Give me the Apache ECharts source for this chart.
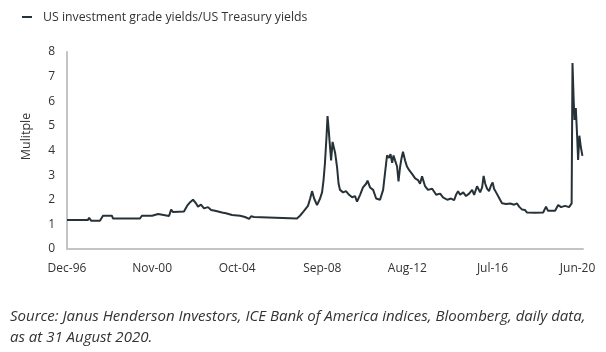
<!DOCTYPE html>
<html>
<head>
<meta charset="utf-8">
<script src="https://cdn.jsdelivr.net/npm/echarts@6/dist/echarts.min.js"></script>
<style>
html,body{margin:0;padding:0;background:#fff;}
#chart{width:606px;height:352px;}
</style>
</head>
<body>
<div id="chart"></div>
<script>
var seriesName = 'US investment grade yields/US Treasury yields';
var yAxisName = 'Mulitple';
var sourceNote = 'Source: Janus Henderson Investors, ICE Bank of America indices, Bloomberg, daily data,\nas at 31 August 2020.';
var monthNames = ['Jan','Feb','Mar','Apr','May','Jun','Jul','Aug','Sep','Oct','Nov','Dec'];
var startDate = '1996-12-01';
var endDate = '2020-09-01';
var tickEveryMonths = 47;
var yTicks = [0, 1, 2, 3, 4, 5, 6, 7, 8];

var dates = [
'1996-12-01','1997-11-18','1997-12-07','1998-01-10','1998-06-07','1998-07-28','1998-12-28','1999-01-12',
'2000-04-10','2000-05-12','2000-11-01','2000-12-01','2001-02-10','2001-02-24','2001-08-12','2001-09-16',
'2001-10-19','2002-04-19','2002-06-10','2002-08-01','2002-09-19','2002-11-10','2002-12-12','2003-02-01',
'2003-03-22','2003-05-28','2003-07-19','2003-09-25','2004-01-19','2004-03-25','2004-07-07','2004-11-19',
'2005-02-10','2005-03-12','2005-04-19','2005-05-22','2005-07-10','2005-08-12','2007-07-01','2007-08-22',
'2007-10-12','2007-12-01','2008-01-04','2008-02-10','2008-03-12','2008-04-16','2008-06-04','2008-07-25',
'2008-08-28','2008-09-22','2008-10-16','2008-11-12','2008-11-28','2008-12-16','2009-01-01','2009-01-28',
'2009-02-20','2009-03-16','2009-04-04','2009-05-07','2009-06-01','2009-06-25','2009-08-16','2009-10-04',
'2009-11-25','2010-01-16','2010-03-04','2010-04-07','2010-05-28','2010-07-16','2010-09-07','2010-10-01',
'2010-11-12','2011-01-04','2011-02-22','2011-04-28','2011-06-19','2011-07-22','2011-08-25','2011-09-28',
'2011-10-22','2011-11-19','2011-12-12','2012-01-07','2012-02-10','2012-03-04','2012-04-01','2012-04-25',
'2012-05-19','2012-06-22','2012-07-25','2012-09-01','2012-10-19','2012-12-10','2013-01-28','2013-03-01',
'2013-04-04','2013-05-25','2013-07-12','2013-09-22','2013-11-28','2014-02-04','2014-03-22','2014-06-01',
'2014-08-07','2014-09-25','2014-10-28','2014-12-01','2015-01-04','2015-02-25','2015-04-12','2015-06-04',
'2015-07-25','2015-08-28','2015-10-16','2015-12-07','2016-01-10','2016-02-04','2016-03-01','2016-04-01',
'2016-05-04','2016-06-10','2016-07-04','2016-07-28','2016-09-01','2016-10-04','2016-11-07','2016-12-10',
'2017-02-16','2017-04-25','2017-07-01','2017-08-19','2017-09-22','2017-11-12','2018-01-01','2018-02-04',
'2018-06-19','2018-11-01','2018-12-19','2019-01-22','2019-05-19','2019-07-10','2019-08-28','2019-11-04',
'2020-01-10','2020-02-22','2020-03-07','2020-03-28','2020-04-10','2020-05-02','2020-05-25','2020-06-10',
'2020-07-01','2020-07-25','2020-08-22'
];
var values = [
1.18,1.18,1.27,1.15,1.15,1.35,1.35,1.24,
1.24,1.35,1.35,1.42,1.42,1.34,1.34,1.60,
1.50,1.52,1.75,1.90,2.00,1.85,1.72,1.80,
1.65,1.70,1.58,1.55,1.48,1.45,1.38,1.35,
1.30,1.22,1.22,1.33,1.30,1.24,1.24,1.35,
1.50,1.65,1.75,2.05,2.35,2.05,1.78,2.05,
2.30,2.80,3.50,4.60,5.40,4.90,4.40,3.60,
4.35,4.40,3.90,3.30,2.65,2.40,2.30,2.35,
2.20,2.10,2.15,1.92,2.20,2.50,2.65,2.78,
2.50,2.40,2.05,2.00,2.40,3.10,3.80,3.70,
3.85,3.50,3.80,3.60,3.35,2.75,3.35,3.70,
3.95,3.60,3.35,3.20,3.05,2.87,2.80,2.65,
2.95,2.55,2.40,2.45,2.20,2.25,2.10,2.00,
2.05,1.98,2.20,2.35,2.20,2.30,2.15,2.25,
2.40,2.20,2.55,2.30,2.50,2.97,2.65,2.45,
2.35,2.60,2.70,2.45,2.30,2.15,2.00,1.86,
1.83,1.85,1.80,1.85,1.72,1.60,1.58,1.48,
1.47,1.48,1.72,1.55,1.55,1.79,1.70,1.75,
1.70,1.85,7.55,6.00,5.24,5.72,4.56,3.62,
4.60,4.16,3.78
];

function monthOffset(s) {
  var p = s.split('-').map(Number);
  var b = startDate.split('-').map(Number);
  var dim = new Date(p[0], p[1], 0).getDate();
  return (p[0] - b[0]) * 12 + (p[1] - b[1]) + (p[2] - 1) / dim;
}
function offsetLabel(v) {
  if (Math.abs(v % tickEveryMonths) > 1e-6) return '';
  var b = startDate.split('-').map(Number);
  var total = b[0] * 12 + (b[1] - 1) + v;
  var y = Math.floor(total / 12), m = total % 12;
  return monthNames[m] + '-' + String(y % 100).padStart(2, '0');
}

var data = dates.map(function (d, i) { return [monthOffset(d), values[i]]; });

var chart = echarts.init(document.getElementById('chart'), null, {renderer: 'canvas'});
var font = 'Open Sans';
chart.setOption({
  animation: false,
  backgroundColor: '#fff',
  textStyle: {fontFamily: font},
  title: {
    text: sourceNote,
    left: 10, top: 306, padding: 0,
    textStyle: {fontFamily: font, fontStyle: 'italic', fontWeight: 'normal', fontSize: 15, color: '#333', lineHeight: 21}
  },
  legend: {
    left: 22, top: 11, padding: 0,
    icon: 'rect', itemWidth: 10, itemHeight: 2,
    formatter: function (n) { return '{t|' + n + '}'; },
    textStyle: {fontFamily: font, fontSize: 12.3, color: '#333',
      rich: {t: {fontFamily: font, fontSize: 12.3, color: '#333', padding: [0, 0, 0, 6]}}},
    data: [seriesName]
  },
  grid: {left: 67, right: 23, top: 52, bottom: 103, containLabel: false},
  xAxis: {
    type: 'value',
    min: 0, max: monthOffset(endDate), interval: tickEveryMonths,
    axisLine: {show: true, onZero: false, lineStyle: {color: '#c4c4c4', width: 2}},
    axisTick: {show: false},
    splitLine: {show: false},
    axisLabel: {margin: 14, fontSize: 12, color: '#333', fontFamily: font, formatter: offsetLabel, showMaxLabel: false}
  },
  yAxis: {
    type: 'value',
    min: yTicks[0], max: yTicks[yTicks.length - 1], interval: 1,
    name: yAxisName, nameLocation: 'middle', nameGap: 34, nameRotate: 90,
    nameTextStyle: {fontFamily: font, fontSize: 12.5, color: '#333', padding: [0, 0, 0, 28]},
    axisLine: {show: true, lineStyle: {color: '#c4c4c4', width: 2}},
    axisTick: {show: false},
    splitLine: {show: false},
    axisLabel: {margin: 12, fontSize: 12, color: '#333', fontFamily: font}
  },
  series: [{
    name: seriesName,
    type: 'line',
    data: data,
    showSymbol: false,
    symbol: 'none',
    lineStyle: {color: '#263238', width: 2},
    itemStyle: {color: '#263238'}
  }]
});
</script>
</body>
</html>
